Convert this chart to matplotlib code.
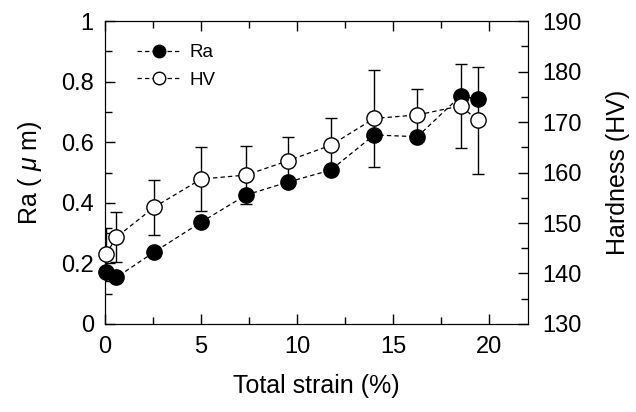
import matplotlib
matplotlib.use('Agg')
import matplotlib.pyplot as plt
from matplotlib.ticker import MultipleLocator

plt.rcParams['font.family'] = ['Liberation Sans', 'DejaVu Sans']
plt.rcParams['mathtext.fontset'] = 'custom'
plt.rcParams['mathtext.rm'] = 'Liberation Sans'
plt.rcParams['mathtext.it'] = 'Liberation Sans:italic'

# dados
strain = [0.05, 0.6, 2.55, 5.0, 7.35, 9.5, 11.75, 14.0, 16.25, 18.5, 19.4]
ra = [0.173, 0.154, 0.237, 0.336, 0.426, 0.468, 0.508, 0.624, 0.618, 0.753, 0.742]
hv = [143.8, 147.2, 153.1, 158.7, 159.5, 162.3, 165.4, 170.7, 171.4, 173.2, 170.3]
hv_err = [5.3, 5.0, 5.5, 6.3, 5.7, 4.75, 5.4, 9.6, 5.1, 8.3, 10.5]

fig = plt.figure(figsize=(6.36, 4.12), dpi=100)
ax = fig.add_axes([0.165, 0.2136, 0.665, 0.7354])
ax2 = ax.twinx()

dash = (0, (3.5, 2.5))

# Ra (eixo da esquerda)
ax.plot(strain, ra, linestyle=dash, color='black', lw=0.9, zorder=3)
ax.plot(strain, ra, linestyle='none', marker='o', ms=11, mfc='black',
        mec='black', zorder=4, clip_on=False)

# HV (eixo da direita)
ax2.errorbar(strain, hv, yerr=hv_err, fmt='none', ecolor='black', elinewidth=1,
             capsize=4, capthick=1, zorder=2)
ax2.plot(strain, hv, linestyle=dash, color='black', lw=0.9, zorder=3)
ax2.plot(strain, hv, linestyle='none', marker='o', ms=11, mfc='white',
         mec='black', mew=1, zorder=4, clip_on=False)

ax.set_xlim(0, 22)
ax.set_ylim(0, 1)
ax2.set_ylim(130, 190)

ax.xaxis.set_major_locator(MultipleLocator(5))
ax.xaxis.set_minor_locator(MultipleLocator(2.5))
ax.yaxis.set_major_locator(MultipleLocator(0.2))
ax.yaxis.set_minor_locator(MultipleLocator(0.1))
ax2.yaxis.set_major_locator(MultipleLocator(10))
ax2.yaxis.set_minor_locator(MultipleLocator(5))

ax.tick_params(axis='x', which='both', direction='in', top=True, labelsize=17, pad=9)
ax.tick_params(axis='y', which='both', direction='in', right=False, labelsize=17, pad=8)
ax.tick_params(which='major', length=7, width=1)
ax.tick_params(which='minor', length=5, width=1)
ax2.tick_params(axis='y', which='both', direction='in', labelsize=17, pad=10)
ax2.tick_params(which='major', length=7, width=1)
ax2.tick_params(which='minor', length=5, width=1)

ax.set_yticks([0, 0.2, 0.4, 0.6, 0.8, 1.0])
ax.set_yticklabels(['0', '0.2', '0.4', '0.6', '0.8', '1'])

ax.set_xlabel('Total strain (%)', fontsize=18, labelpad=11)
ax.set_ylabel(r'Ra ( $\mu$ m)', fontsize=18, labelpad=12)
ax2.set_ylabel('Hardness (HV)', fontsize=18, labelpad=18)

# legenda
h1, = ax.plot([], [], linestyle=dash, color='black', lw=0.9, marker='o', ms=9,
              mfc='black', mec='black', label='Ra')
h2, = ax.plot([], [], linestyle=dash, color='black', lw=0.9, marker='o', ms=9,
              mfc='white', mec='black', label='HV')
ax.legend(handles=[h1, h2], loc='upper left', frameon=False, fontsize=13.5,
          handlelength=2.4, handletextpad=0.4, labelspacing=0.55,
          bbox_to_anchor=(0.035, 0.98))

fig.savefig('out.png', dpi=100)
